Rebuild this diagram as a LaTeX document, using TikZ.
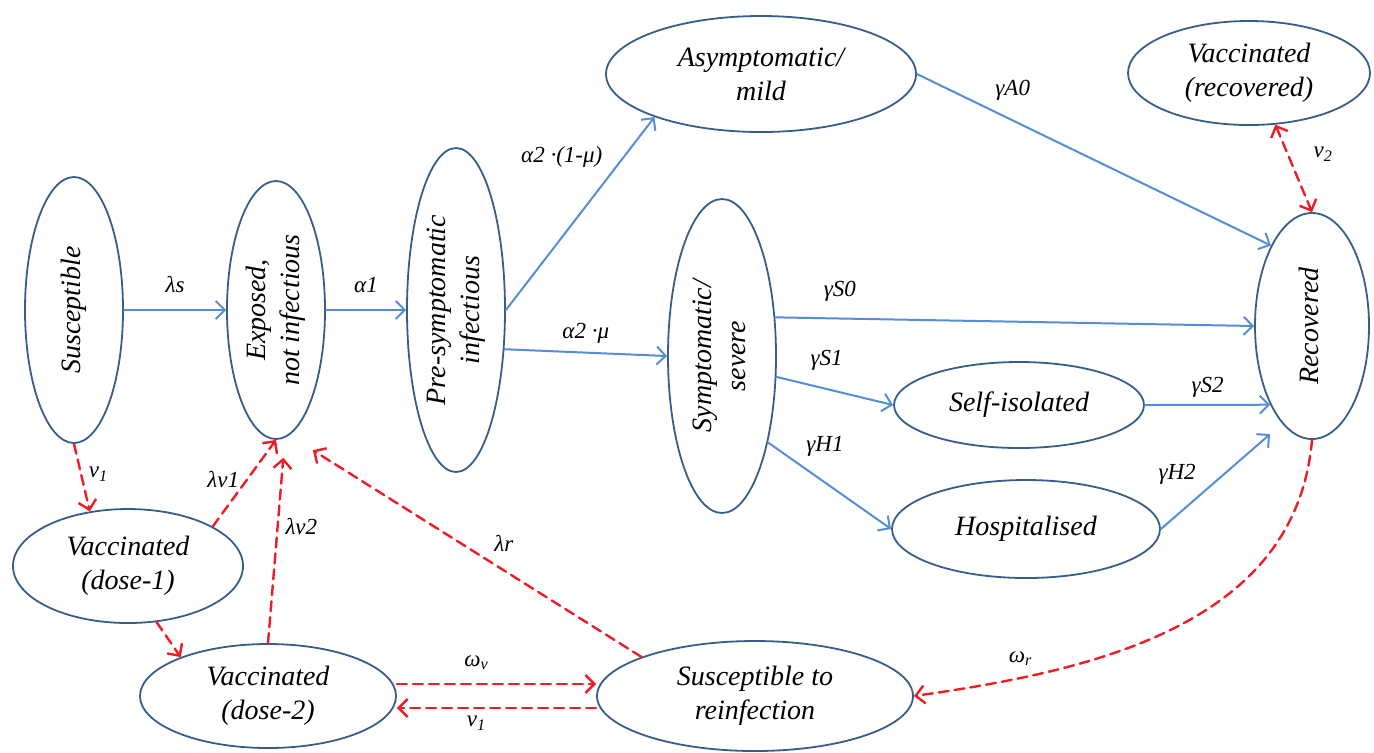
\documentclass[tikz,border=0pt]{standalone}
\usepackage{fontspec}
\setmainfont{Liberation Serif}
\usepackage{graphicx}
\usetikzlibrary{arrows.meta,shapes.geometric}
\definecolor{rimblue}{RGB}{56,93,138}
\definecolor{flowblue}{RGB}{85,142,213}
\definecolor{vacred}{RGB}{238,28,36}
\newcommand{\uprot}[1]{\rotatebox{90}{\begin{tabular}{@{}c@{}}#1\end{tabular}}}

\begin{document}
\begin{tikzpicture}[x=0.5pt,y=-0.5pt,line cap=round,line join=round,
state/.style={ellipse,draw=rimblue,line width=.9pt,inner sep=0pt,align=center,font=\fontsize{14}{17}\selectfont\itshape},
flow/.style={draw=flowblue,line width=1pt,-{Straight Barb[length=4.5pt,width=9pt]}},
vac/.style={draw=vacred,line width=1.2pt,dash pattern=on 5pt off 3pt,-{Straight Barb[length=4.5pt,width=9pt]}},
every label/.style={},lbl/.style={font=\fontsize{11.5}{13}\selectfont\itshape}]
\useasboundingbox (0,0) rectangle (1374,752);
% compartments
\node[state,minimum width=49pt,minimum height=133pt] (sus) at (74,310) {\uprot{Susceptible}};
\node[state,minimum width=49pt,minimum height=129pt] (exp) at (276,310) {\uprot{Exposed,\\not infectious}};
\node[state,minimum width=49pt,minimum height=162pt] (pre) at (456,310) {\uprot{Pre-symptomatic\\infectious}};
\node[state,minimum width=155pt,minimum height=58pt] (asym) at (761,74) {Asymptomatic/\\mild};
\node[state,minimum width=121pt,minimum height=52pt] (vrec) at (1249,73) {Vaccinated\\(recovered)};
\node[state,minimum width=54pt,minimum height=157pt] (symp) at (722,356) {\uprot{Symptomatic/\\severe}};
\node[state,minimum width=57pt,minimum height=113pt] (rec) at (1312,326) {\uprot{Recovered}};
\node[state,minimum width=125pt,minimum height=43pt] (si) at (1019,405) {Self-isolated};
\node[state,minimum width=134pt,minimum height=49pt] (hosp) at (1026,529) {Hospitalised};
\node[state,minimum width=115pt,minimum height=57pt] (d1) at (128,566) {Vaccinated\\(dose-1)};
\node[state,minimum width=128pt,minimum height=52pt] (d2) at (268,696) {Vaccinated\\(dose-2)};
\node[state,minimum width=158pt,minimum height=55pt] (reinf) at (755,696) {Susceptible to\\reinfection};
% disease progression
\draw[flow] (sus)--node[lbl,above=5pt]{λs}(exp);
\draw[flow] (exp)--node[lbl,above=5pt]{α1}(pre);
\draw[flow] (pre.east)--node[lbl,pos=.7,above left]{α2 ·(1-μ)}(asym.-158);
\draw[flow] (pre.-39)--node[lbl,above=1pt]{α2 ·μ}(symp.west);
\draw[flow] (asym.east)--node[lbl,pos=.2,above right]{γA0}(rec.117);
\draw[flow] (symp.36)--node[lbl,pos=.135,above=4.5pt]{γS0}(rec.west);
\draw[flow] (symp.-21)--node[lbl,pos=.43,above=5.5pt]{γS1}(si.west);
\draw[flow] (symp.-62)--node[lbl,pos=.25,above right]{γH1}(hosp.west);
\draw[flow] (si.east)--node[lbl,above]{γS2}(rec.-118);
\draw[flow,shorten >=8pt] (hosp.east)--node[lbl,pos=.35,above left]{γH2}(rec.-107);
% vaccination and waning
\draw[vac] (sus.south)--node[lbl,pos=.45,right]{v\textsubscript{1}}(d1.125);
\draw[vac] (d1.25)--node[lbl,pos=.54,left]{λv1}(exp.south);
\draw[vac] (d1.-63)--(d2.156);
\draw[vac,shorten >=10pt] (d2.north)--node[lbl,pos=.57,right]{λv2}(exp.-86);
\draw[vac,shorten >=14pt] (reinf.161)--node[lbl,pos=.44,above right]{λr}(exp.-84);
\draw[vac] ([yshift=6pt]d2.east)--node[lbl,pos=.4,above=3pt]{ω\textsubscript{v}}([yshift=6pt]reinf.west);
\draw[vac] ([yshift=-6pt]reinf.west)--node[lbl,pos=.6,below]{v\textsubscript{1}}([yshift=-6pt]d2.east);
\draw[vac] (rec.south) to[out=-95,in=8] node[lbl,pos=.77,above left]{ω\textsubscript{r}} (reinf.east);
\draw[vac,{Straight Barb[length=4.5pt,width=9pt]}-{Straight Barb[length=4.5pt,width=9pt]}] (vrec.-63)--node[lbl,pos=.34,right=9pt]{v\textsubscript{2}}(rec.north);
\end{tikzpicture}
\end{document}
